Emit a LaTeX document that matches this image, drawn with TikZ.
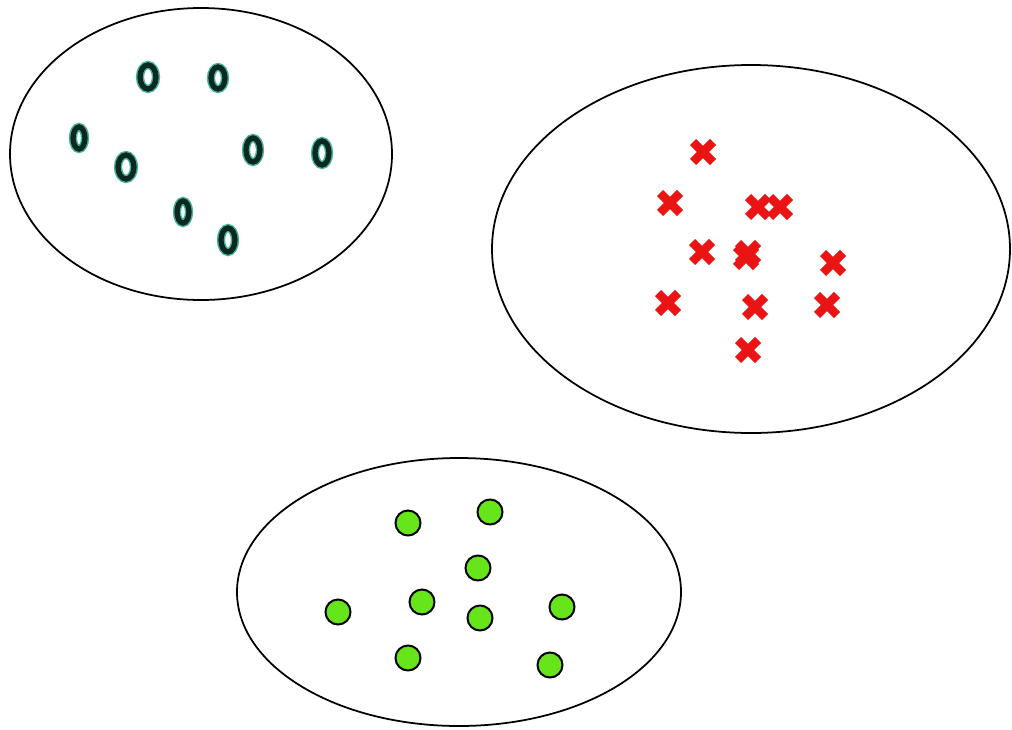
\documentclass[tikz,border=0pt]{standalone}
\begin{document}
\begin{tikzpicture}[x=0.03cm,y=-0.03cm,
  cluster/.style={draw=black,line width=1.5pt},
  ringglow/.style={draw={rgb,255:red,70;green,180;blue,150},line width=7pt},
  ringcore/.style={draw={rgb,255:red,12;green,40;blue,34},line width=4.5pt},
  crossmark/.style={draw={rgb,255:red,235;green,20;blue,20},line width=7.5pt},
  dotmark/.style={draw=black,fill={rgb,255:red,102;green,230;blue,26},line width=1.7pt}]
\useasboundingbox (0,0) rectangle (1012,729);
\fill[white] (0,0) rectangle (1012,729);
% clusters
\draw[cluster] (201,154) ellipse [x radius=191,y radius=146];
\draw[cluster] (751,249) ellipse [x radius=259,y radius=184];
\draw[cluster] (459,592) ellipse [x radius=222,y radius=134];
% rings
\foreach \x/\y/\rx/\ry in {148/77/8/12, 218/78/7/11, 79/138/6/11, 126/167/8/12, 253/150/7/12, 322/153/7/12, 183/212/6/11, 228/240/7/12}{
  \draw[ringglow] (\x,\y) ellipse [x radius=\rx,y radius=\ry];
  \draw[ringcore] (\x,\y) ellipse [x radius=\rx,y radius=\ry];
}
% crosses
\foreach \x/\y in {703/152, 670/203, 758/207, 780/207, 702/252, 748/253, 746/257, 833/263, 668/303, 755/307, 827/305, 748/350}{
  \draw[crossmark] (\x-10,\y-10) -- (\x+10,\y+10);
  \draw[crossmark] (\x-10,\y+10) -- (\x+10,\y-10);
}
% dots
\foreach \x/\y in {408/523, 490/512, 478/568, 422/602, 338/612, 480/618, 562/607, 408/658, 550/665}{
  \draw[dotmark] (\x,\y) circle [radius=12.5];
}
\end{tikzpicture}
\end{document}
